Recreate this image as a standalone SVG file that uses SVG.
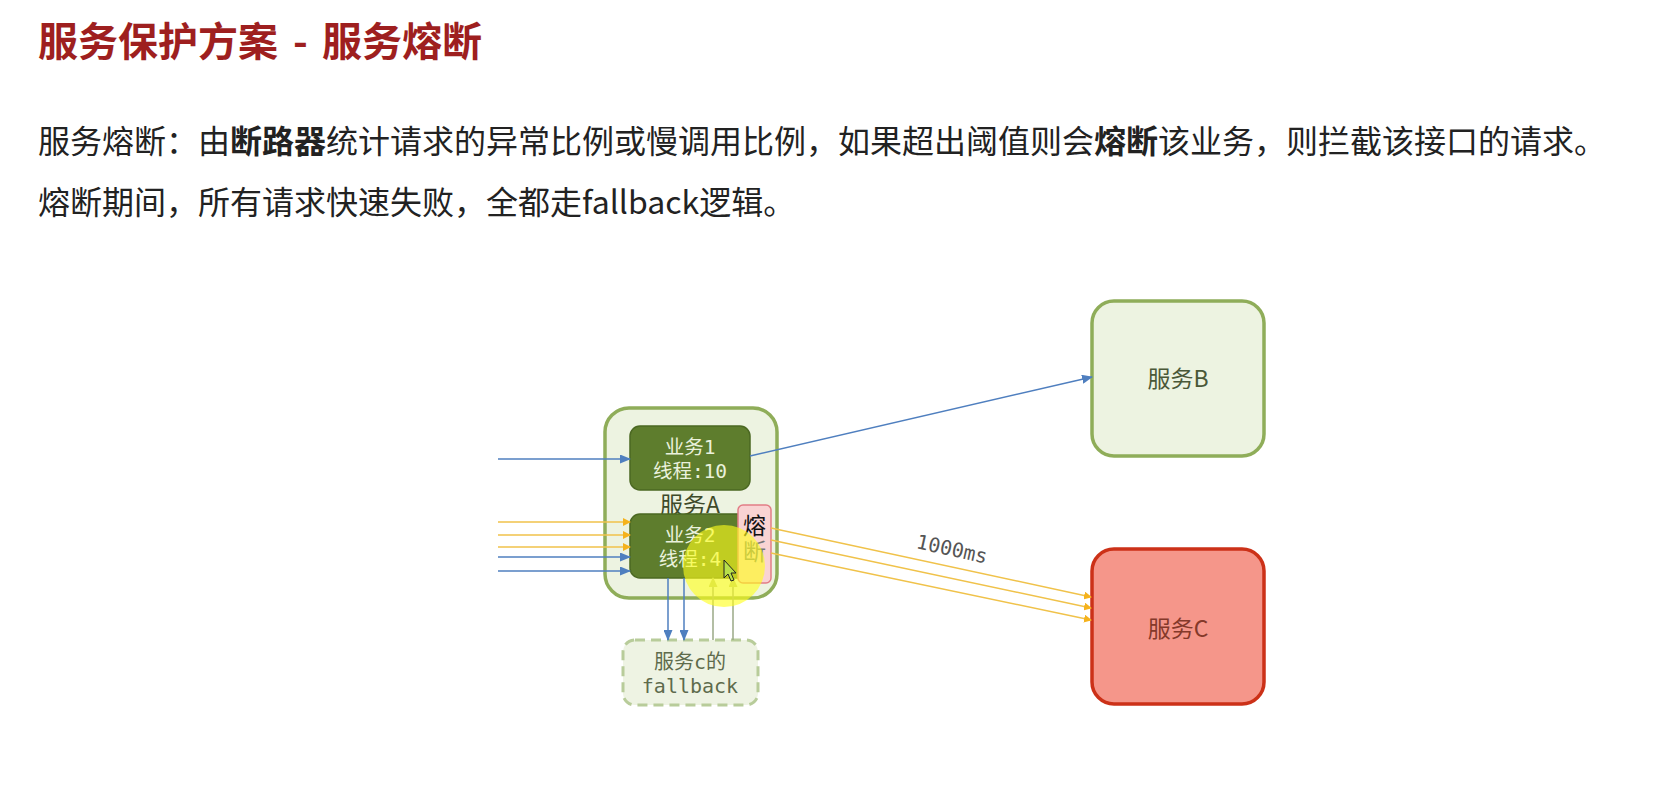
<svg xmlns="http://www.w3.org/2000/svg" width="1664" height="789" viewBox="0 0 1664 789">
<style>
.title{font-family:"Noto Sans CJK SC","Noto Sans",sans-serif;font-size:40px;font-weight:600;fill:#9e1f1f}
.body{font-family:"Noto Sans CJK SC","Noto Sans",sans-serif;font-size:32px;fill:#222}
.b{font-weight:700}
.lbl{font-family:"Noto Sans CJK SC","Noto Sans",sans-serif;text-anchor:middle;dominant-baseline:central}
.mono{font-family:"DejaVu Sans Mono","Noto Sans CJK SC",monospace;text-anchor:middle;dominant-baseline:central}
.vert{font-family:"Noto Sans CJK SC","Noto Sans",sans-serif;writing-mode:vertical-rl;text-orientation:upright;letter-spacing:3px}
.svc{fill:#edf3e1;stroke:#8fad59;stroke-width:3.5}
.biz{fill:#5e7d2d;stroke:#4b6822;stroke-width:1.5}
.bizt{font-size:19.5px;fill:#eaf1dc}
.blue{stroke:#4f7fbf;stroke-width:1.5;fill:none}
.org{stroke:#f0c24a;stroke-width:1.5;fill:none}
.gry{stroke:#9aa886;stroke-width:1.5;fill:none}
</style>
<defs>
<marker id="ab" markerUnits="userSpaceOnUse" markerWidth="11" markerHeight="9" refX="10" refY="4.5" orient="auto"><path d="M0,0 L11,4.5 L0,9 z" fill="#4f7fbf"/></marker>
<marker id="ao" markerUnits="userSpaceOnUse" markerWidth="8" markerHeight="8" refX="7" refY="4" orient="auto"><path d="M0,0 L8,4 L0,8 z" fill="#f5b21c"/></marker>
<marker id="ag" markerUnits="userSpaceOnUse" markerWidth="10" markerHeight="9" refX="9" refY="4.5" orient="auto"><path d="M0,0 L10,4.5 L0,9 z" fill="#b9c77f"/></marker>
</defs>
<rect width="1664" height="789" fill="#ffffff"/>

<text class="title" x="38" y="56">服务保护方案 <tspan x="293">-</tspan> <tspan x="322">服务熔断</tspan></text>
<text class="body" x="38" y="153">服务熔断：由<tspan class="b">断路器</tspan>统计请求的异常比例或慢调用比例，如果超出阈值则会<tspan class="b">熔断</tspan>该业务，则拦截该接口的请求。</text>
<text class="body" x="38" y="214">熔断期间，所有请求快速失败，全都走fallback逻辑。</text>

<g id="serviceA">
<rect class="svc" x="605" y="408" width="172" height="190" rx="24"/>
<text class="lbl" x="690" y="503" font-size="23" fill="#3e4a2a">服务A</text>
</g>
<g id="biz1">
<rect class="biz" x="630" y="426" width="120" height="64" rx="10"/>
<text class="mono bizt" x="690" y="447">业务1</text>
<text class="mono bizt" x="690" y="471">线程:10</text>
</g>
<g id="biz2">
<rect class="biz" x="630" y="514" width="130" height="64" rx="10"/>
<text class="mono bizt" x="690" y="535">业务2</text>
<text class="mono bizt" x="690" y="559">线程:4</text>
</g>
<g id="breaker">
<rect x="738" y="505" width="33" height="78" rx="5" fill="#f9d3d3" stroke="#e27d86" stroke-width="1.5"/>
<text class="vert" x="754.5" y="514" font-size="23"><tspan fill="#111">熔</tspan><tspan fill="#777">断</tspan></text>
</g>
<g id="fallback">
<rect x="623" y="640" width="135" height="65" rx="12" fill="#eef3e3" stroke="#b8cc9a" stroke-width="3" stroke-dasharray="10 6"/>
<text class="mono" x="690" y="662" font-size="20" fill="#5e6b4c">服务c的</text>
<text class="mono" x="690" y="686" font-size="20" fill="#5e6b4c">fallback</text>
</g>
<g id="serviceB">
<rect class="svc" x="1092" y="301" width="172" height="155" rx="22"/>
<text class="lbl" x="1178" y="377" font-size="23" fill="#4a5838">服务B</text>
</g>
<g id="serviceC">
<rect x="1092" y="549" width="172" height="155" rx="22" fill="#f5968a" stroke="#cc3118" stroke-width="3.5"/>
<text class="lbl" x="1178" y="627" font-size="23" fill="#84392a">服务C</text>
</g>

<g id="connectors">
<line class="blue" x1="498" y1="459" x2="630" y2="459" marker-end="url(#ab)"/>
<line class="org" x1="498" y1="522" x2="630" y2="522" marker-end="url(#ao)"/>
<line class="org" x1="498" y1="535" x2="630" y2="535" marker-end="url(#ao)"/>
<line class="org" x1="498" y1="547" x2="630" y2="547" marker-end="url(#ao)"/>
<line class="blue" x1="498" y1="557" x2="630" y2="557" marker-end="url(#ab)"/>
<line class="blue" x1="498" y1="571" x2="630" y2="571" marker-end="url(#ab)"/>
<line class="blue" x1="668" y1="578" x2="668" y2="640" marker-end="url(#ab)"/>
<line class="blue" x1="684" y1="578" x2="684" y2="640" marker-end="url(#ab)"/>
<line class="gry" x1="713" y1="640" x2="713" y2="578" marker-end="url(#ag)"/>
<line class="gry" x1="733" y1="640" x2="733" y2="578" marker-end="url(#ag)"/>
<line class="blue" x1="750" y1="456" x2="1092" y2="377" marker-end="url(#ab)"/>
<line class="org" x1="771" y1="528" x2="1091" y2="597" marker-end="url(#ao)"/>
<line class="org" x1="771" y1="540" x2="1091" y2="608" marker-end="url(#ao)"/>
<line class="org" x1="771" y1="553" x2="1091" y2="620" marker-end="url(#ao)"/>
<text class="mono" x="952" y="549" font-size="20" fill="#555" transform="rotate(12.4 952 549)">1000ms</text>
</g>

<circle cx="724" cy="566" r="41" fill="#ffff1a" opacity="0.62"/>
<path d="M724,560 L724,578 L728,574 L731,581 L734,580 L731,573 L736,573 Z" fill="#b8e04a" stroke="#222" stroke-width="1"/>
</svg>
